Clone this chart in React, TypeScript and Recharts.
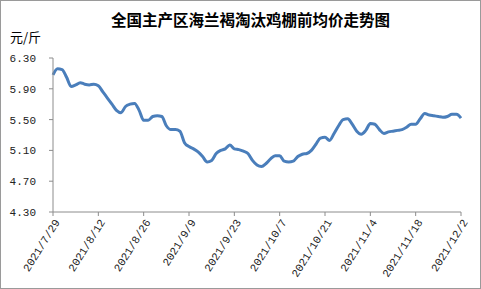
import React from "react";
import { LineChart, Line, XAxis, YAxis } from "recharts";

const TITLE = "全国主产区海兰褐淘汰鸡棚前均价走势图";
const UNIT = "元/斤";

const TICK_LABELS = [
  "2021/7/29",
  "2021/8/12",
  "2021/8/26",
  "2021/9/9",
  "2021/9/23",
  "2021/10/7",
  "2021/10/21",
  "2021/11/4",
  "2021/11/18",
  "2021/12/2",
];

const Y_TICKS = [4.3, 4.7, 5.1, 5.5, 5.9, 6.3];

// one value per trading day, 2021/7/29 .. 2021/12/2
const PRICES = [
  6.08, 6.16, 6.15, 6.05, 5.93, 5.95, 5.98, 5.96, 5.95, 5.96,
  5.94, 5.86, 5.78, 5.70, 5.62, 5.59, 5.67, 5.70, 5.71, 5.62,
  5.49, 5.49, 5.54, 5.55, 5.54, 5.42, 5.37, 5.37, 5.35, 5.20,
  5.15, 5.12, 5.08, 5.02, 4.95, 4.97, 5.06, 5.10, 5.12, 5.17,
  5.12, 5.11, 5.09, 5.06, 4.97, 4.91, 4.89, 4.93, 4.99, 5.03,
  5.03, 4.96, 4.95, 4.96, 5.02, 5.05, 5.06, 5.10, 5.18, 5.26,
  5.27, 5.23, 5.32, 5.42, 5.50, 5.51, 5.44, 5.35, 5.31, 5.36,
  5.45, 5.44, 5.37, 5.32, 5.34, 5.35, 5.36, 5.37, 5.40, 5.44,
  5.44, 5.51, 5.58, 5.56, 5.55, 5.54, 5.53, 5.54, 5.57, 5.57,
  5.52,
];

const STEP = 10;
const data = PRICES.map((v, i) => ({ i, price: v }));
const xTicks = TICK_LABELS.map((_, k) => k * STEP);

const AXIS_COLOR = "#8c8c8c";
const LABEL_FONT = "'Liberation Mono', 'DejaVu Sans Mono', monospace";

function DateTick({ x, y, payload }: { x?: number; y?: number; payload?: { value: number } }) {
  const label = TICK_LABELS[Math.round((payload?.value ?? 0) / STEP)] ?? "";
  return (
    <g transform={`translate(${(x ?? 0) + 4},${(y ?? 0) + 2})`}>
      <text
        x={0}
        y={0}
        dy="0.35em"
        textAnchor="end"
        transform="rotate(-58)"
        fontSize={11}
        fontFamily={LABEL_FONT}
        fill="#222"
      >
        {label}
      </text>
    </g>
  );
}

export default function App() {
  return (
    <div
      style={{
        position: "relative",
        width: 481,
        height: 289,
        boxSizing: "border-box",
        border: "1px solid #9a9a9a",
        background: "#fff",
      }}
    >
      <style>{`body{margin:0}`}</style>
      <div
        style={{
          position: "absolute",
          left: 0,
          width: 481,
          top: 7,
          textAlign: "center",
          fontFamily: "'Noto Sans CJK SC', sans-serif",
          fontWeight: 700,
          fontSize: 15.5,
          color: "#000",
          paddingLeft: 18,
          boxSizing: "border-box",
        }}
      >
        {TITLE}
      </div>
      <div
        style={{
          position: "absolute",
          left: 9,
          top: 26,
          fontFamily: "'Noto Sans CJK SC', sans-serif",
          fontSize: 13,
          color: "#000",
        }}
      >
        {UNIT}
      </div>
      <div style={{ position: "absolute", left: -1, top: -1 }}>
        <LineChart
          width={481}
          height={289}
          data={data}
          margin={{ top: 58, right: 20, bottom: 0, left: 0 }}
        >
          <XAxis
            dataKey="i"
            type="number"
            domain={[0, PRICES.length - 1]}
            ticks={xTicks}
            interval={0}
            height={77}
            tickSize={4}
            tickMargin={2}
            stroke={AXIS_COLOR}
            tick={<DateTick />}
          />
          <YAxis
            domain={[4.3, 6.3]}
            ticks={Y_TICKS}
            interval={0}
            width={53}
            tickSize={4}
            tickMargin={13}
            stroke={AXIS_COLOR}
            tickFormatter={(v: number) => v.toFixed(2)}
            tick={{ fontSize: 11, fontFamily: LABEL_FONT, fill: "#222" }}
          />
          <Line
            type="monotone"
            dataKey="price"
            stroke="#4a7ebb"
            strokeWidth={3}
            dot={false}
            isAnimationActive={false}
          />
        </LineChart>
      </div>
    </div>
  );
}
